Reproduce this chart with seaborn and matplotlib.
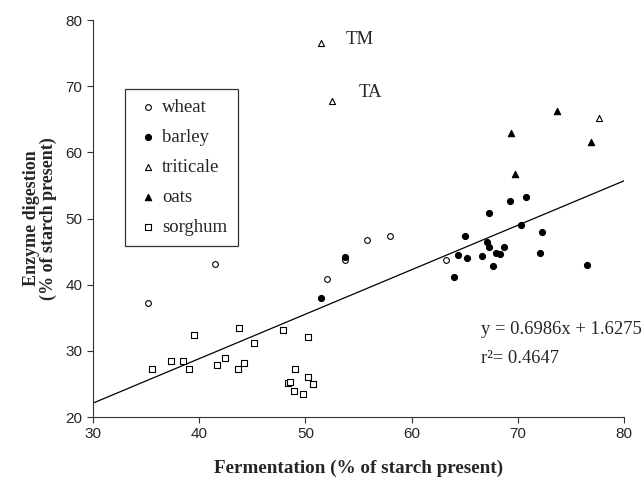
import numpy as np
import pandas as pd
import matplotlib
matplotlib.use("Agg")
import matplotlib.pyplot as plt
import seaborn as sns

# values
wheat_x = [35.2, 41.5, 52.0, 53.75, 55.8, 58.0, 63.2]
wheat_y = [37.3, 43.2, 40.8, 43.7, 46.8, 47.3, 43.8]

barley_x = [51.5, 53.75, 63.96, 64.4, 65.0, 65.2, 66.6, 67.1, 67.25, 67.3, 67.7,
            67.9, 68.3, 68.7, 69.3, 70.3, 70.8, 72.05, 72.3, 76.5]
barley_y = [38.05, 44.15, 41.2, 44.45, 47.4, 44.05, 44.3, 46.5, 50.9, 45.7, 42.8,
            44.85, 44.65, 45.7, 52.7, 49.0, 53.2, 44.85, 48.0, 42.9]

triticale_x = [51.5, 52.5, 77.6]
triticale_y = [76.5, 67.7, 65.2]

oats_x = [69.4, 69.7, 73.66, 76.85]
oats_y = [62.9, 56.7, 66.3, 61.6]

sorghum_x = [35.56, 37.37, 38.44, 39.0, 39.5, 41.7, 42.4, 43.75, 43.65, 44.25,
             45.2, 47.9, 49.05, 48.36, 48.58, 48.95, 49.74, 50.2, 50.2, 50.7]
sorghum_y = [27.2, 28.4, 28.4, 27.3, 32.4, 27.8, 28.9, 33.5, 27.2, 28.1,
             31.2, 33.2, 27.3, 25.2, 25.3, 24.0, 23.5, 32.1, 26.0, 25.0]

fit_slope = 0.672
fit_intercept = 1.94
eq_text = "y = 0.6986x + 1.6275"
r2_text = "r\u00b2= 0.4647"

crops = ["wheat", "barley", "triticale", "oats", "sorghum"]
xs = [wheat_x, barley_x, triticale_x, oats_x, sorghum_x]
ys = [wheat_y, barley_y, triticale_y, oats_y, sorghum_y]

df = pd.concat([pd.DataFrame({"fermentation": x, "enzyme": y, "crop": c})
                for c, x, y in zip(crops, xs, ys)], ignore_index=True)

sns.set_style("ticks")
plt.rcParams["font.family"] = ["Liberation Sans", "DejaVu Sans"]
serif = ["Liberation Serif", "DejaVu Serif"]

fig = plt.figure(figsize=(6.43, 4.79), dpi=100)
ax = fig.add_axes([0.1446, 0.1294, 0.8259, 0.8288])

styles = {
    "wheat": ("o", "white", 17),
    "barley": ("o", "black", 19),
    "triticale": ("^", "white", 19),
    "oats": ("^", "black", 21),
    "sorghum": ("s", "white", 18),
}
for c in crops:
    m, fc, s = styles[c]
    sns.scatterplot(data=df[df.crop == c], x="fermentation", y="enzyme", ax=ax,
                    marker=m, color=fc, edgecolor="black", linewidth=0.8, s=s,
                    label=c, zorder=3)

line_x = np.array([30, 80])
ax.plot(line_x, fit_slope * line_x + fit_intercept, color="black", lw=0.9, zorder=2)

ax.set_xlim(30, 80)
ax.set_ylim(20, 80)
ax.set_xticks(range(30, 81, 10))
ax.set_yticks(range(20, 81, 10))
ax.tick_params(direction="out", length=4, width=0.8, labelsize=11, color="#333333")
for sp in ["top", "right"]:
    ax.spines[sp].set_visible(False)
for sp in ["left", "bottom"]:
    ax.spines[sp].set_linewidth(0.8)
    ax.spines[sp].set_color("#333333")

ax.set_xlabel("Fermentation (% of starch present)", family=serif, fontweight="bold",
              fontsize=13.8, labelpad=13)
ax.set_ylabel("Enzyme digestion\n(% of starch present)", family=serif,
              fontweight="bold", fontsize=13, labelpad=6, linespacing=1.0)

ax.text(53.8, 77.1, "TM", family=serif, fontsize=13.5, va="center")
ax.text(55.0, 69.0, "TA", family=serif, fontsize=13.5, va="center")
ax.text(66.5, 33.2, eq_text, family=serif, fontsize=13.4, va="center")
ax.text(66.5, 28.8, r2_text, family=serif, fontsize=13.4, va="center")

leg = ax.legend(loc="upper left", bbox_to_anchor=(0.06, 0.827), frameon=True,
                fancybox=False, edgecolor="black", prop={"family": serif, "size": 13.5},
                handletextpad=0.05, labelspacing=0.68, borderpad=0.55,
                handlelength=1.4, borderaxespad=0)
leg.get_frame().set_linewidth(0.9)

fig.savefig("out.png", dpi=100)
